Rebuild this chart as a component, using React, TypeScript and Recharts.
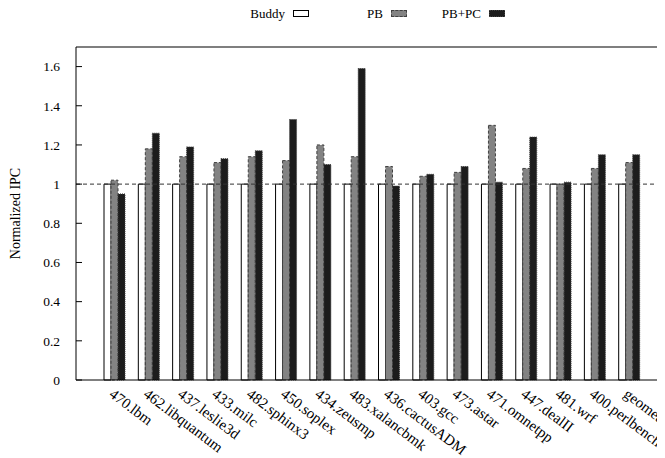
import React from 'react';
import { BarChart, Bar, XAxis, YAxis, ReferenceLine, Legend, CartesianGrid } from 'recharts';

const categories = [
  '470.lbm', '462.libquantum', '437.leslie3d', '433.milc', '482.sphinx3', '450.soplex',
  '434.zeusmp', '483.xalancbmk', '436.cactusADM', '403.gcc', '473.astar', '471.omnetpp',
  '447.dealII', '481.wrf', '400.perlbench', 'geomean',
];
const buddyValues = [1, 1, 1, 1, 1, 1, 1, 1, 1, 1, 1, 1, 1, 1, 1, 1];
const pbValues = [1.02, 1.18, 1.14, 1.11, 1.14, 1.12, 1.2, 1.14, 1.09, 1.04, 1.06, 1.3, 1.08, 1.0, 1.08, 1.11];
const pbpcValues = [0.95, 1.26, 1.19, 1.13, 1.17, 1.33, 1.1, 1.59, 0.99, 1.05, 1.09, 1.01, 1.24, 1.01, 1.15, 1.15];
const seriesNames = ['Buddy', 'PB', 'PB+PC'];
const yTicks = [0, 0.2, 0.4, 0.6, 0.8, 1, 1.2, 1.4, 1.6];
const yMax = 1.7;
const yLabel = 'Normalized IPC';

const data = categories.map((c, i) => ({
  name: c,
  buddy: buddyValues[i],
  pb: pbValues[i],
  pbpc: pbpcValues[i],
}));

const FONT = '"Liberation Serif", "Times New Roman", serif';
const W = 657;
const H = 450;

const seriesStyles = [
  { key: 'buddy', fill: '#ffffff', stroke: '#000000', dash: undefined as string | undefined },
  { key: 'pb', fill: '#838383', stroke: '#404040', dash: '3 2' },
  { key: 'pbpc', fill: '#1c1c1c', stroke: '#404040', dash: '1 1' },
];

const XTick = (props: any) => {
  const { x, y, payload } = props;
  const ax = x - 6;
  const ay = y + 16;
  return (
    <text
      x={ax}
      y={ay}
      transform={`rotate(37, ${ax}, ${ay})`}
      textAnchor="start"
      fontSize={15}
      fontFamily={FONT}
      fill="#000"
    >
      {payload.value}
    </text>
  );
};

const LegendContent = () => {
  return (
    <div style={{ position: 'relative', width: W, height: 20, fontFamily: FONT, fontSize: 13 }}>
      {seriesNames.map((n, i) => {
        const s = seriesStyles[i];
        const textRight = 277 + 98 * i;
        return (
          <React.Fragment key={n}>
            <span
              style={{
                position: 'absolute',
                right: W - textRight,
                top: -1,
                lineHeight: '14px',
                whiteSpace: 'nowrap',
                color: '#000',
              }}
            >
              {n}
            </span>
            <span
              style={{
                position: 'absolute',
                left: textRight + 8,
                top: 2,
                width: 14,
                height: 5,
                background: s.fill,
                border: `1px ${s.dash ? (s.dash === '1 1' ? 'dotted' : 'dashed') : 'solid'} ${s.stroke}`,
              }}
            />
          </React.Fragment>
        );
      })}
    </div>
  );
};

const YLabel = (props: any) => {
  const vb = props.viewBox || {};
  const x = (vb.x ?? 18) - 6;
  const y = (vb.y ?? 39) + (vb.height ?? 333) / 2;
  return (
    <text
      x={x}
      y={y}
      transform={`rotate(-90, ${x}, ${y})`}
      textAnchor="middle"
      fontSize={14}
      fontFamily={FONT}
      fill="#000"
    >
      {yLabel}
    </text>
  );
};

export default function App() {
  return (
    <div style={{ fontFamily: FONT }}>
      <BarChart
        width={W}
        height={H}
        data={data}
        margin={{ top: 19, right: 6, left: 18, bottom: 0 }}
        barGap={0}
        style={{ fontFamily: FONT }}
      >
        <Legend
          verticalAlign="top"
          content={<LegendContent />}
          wrapperStyle={{ top: 0, left: 0, width: W, height: 20 }}
        />
        <CartesianGrid
          stroke="#000000"
          strokeWidth={1.2}
          horizontal={false}
          verticalCoordinatesGenerator={(p: any) => [p.offset.left + p.offset.width - 0.5]}
        />
        <XAxis
          dataKey="name"
          height={78}
          interval={0}
          tick={<XTick />}
          tickLine={false}
          tickSize={0}
          tickMargin={0}
          axisLine={{ stroke: '#000', strokeWidth: 1 }}
          padding={{ left: 21, right: 13 }}
        />
        <YAxis
          width={50}
          domain={[0, yMax]}
          ticks={yTicks}
          interval={0}
          tickSize={-6}
          tickMargin={22}
          tick={{ fontSize: 13.5, fontFamily: FONT, fill: '#000' }}
          tickLine={{ stroke: '#000' }}
          axisLine={{ stroke: '#000', strokeWidth: 1 }}
          label={<YLabel />}
        />
        <ReferenceLine y={yMax} stroke="#000000" strokeWidth={1.2} ifOverflow="visible" />
        <ReferenceLine
          y={1}
          stroke="#333"
          strokeDasharray="4 3"
          ifOverflow="visible"
        />
        {seriesStyles.map((s, i) => (
          <Bar
            key={s.key}
            dataKey={s.key}
            name={seriesNames[i]}
            barSize={7}
            fill={s.fill}
            stroke={s.stroke}
            strokeWidth={1}
            strokeDasharray={s.dash}
            isAnimationActive={false}
          />
        ))}
      </BarChart>
    </div>
  );
}
